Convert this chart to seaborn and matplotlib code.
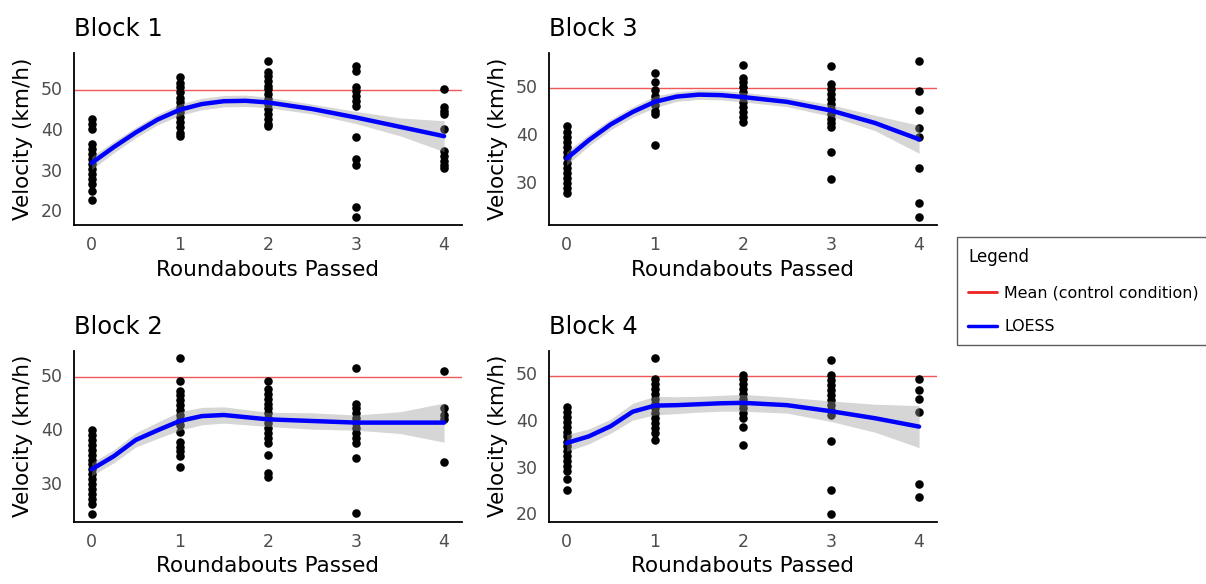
"""
Velocity vs roundabouts passed, one panel per block, with LOESS fit
"""
import matplotlib
matplotlib.use('Agg')
import numpy as np
import pandas as pd
import matplotlib.pyplot as plt
from matplotlib.lines import Line2D
from matplotlib.ticker import MultipleLocator
import seaborn as sns

passed = [0, 1, 2, 3, 4]
control_mean = 49.5

# velocity readings per roundabout count (0..4)
block1_vel = [
    [42.4, 41.2, 40.0, 36.3, 35.1, 33.8, 32.6, 31.4, 30.1, 28.9, 27.7, 26.5, 24.8, 22.4],
    [52.7, 51.4, 50.2, 49.0, 47.7, 46.5, 45.3, 44.1, 42.8, 41.6, 40.4, 39.1, 38.3],
    [56.8, 53.9, 53.1, 51.8, 50.6, 49.8, 48.6, 47.3, 46.1, 44.9, 43.7, 42.4, 41.2, 40.8],
    [55.5, 54.3, 50.2, 49.4, 48.2, 46.9, 45.7, 37.9, 32.6, 31.0, 20.7, 18.3],
    [49.8, 45.5, 44.5, 43.7, 40.0, 34.6, 33.4, 32.2, 31.1, 30.4],
]
block2_vel = [
    [39.8, 38.9, 38.0, 37.1, 36.2, 35.3, 34.4, 33.5, 32.6, 31.7, 30.8, 29.9, 29.0, 28.1, 27.2, 26.3, 24.4],
    [53.0, 48.9, 47.1, 46.2, 45.3, 44.4, 43.5, 42.6, 41.7, 40.8, 39.5, 37.7, 36.8, 35.9, 35.0, 33.0],
    [48.9, 47.4, 46.5, 45.6, 44.7, 43.8, 42.9, 42.0, 41.1, 40.2, 39.2, 38.3, 37.4, 35.3, 32.0, 31.2],
    [51.3, 44.7, 43.8, 42.9, 42.0, 41.1, 40.2, 39.2, 38.3, 37.4, 34.6, 24.6],
    [50.7, 43.8, 42.6, 41.8, 33.9],
]
block3_vel = [
    [41.5, 40.3, 39.3, 38.3, 37.2, 36.2, 35.2, 33.8, 32.8, 31.7, 30.7, 29.7, 28.6, 27.7],
    [52.6, 50.8, 49.0, 47.9, 46.9, 45.9, 44.8, 44.1, 37.6],
    [54.3, 51.6, 50.7, 49.7, 48.6, 47.6, 46.6, 45.5, 44.5, 43.4, 42.4],
    [54.0, 50.3, 49.3, 48.3, 47.2, 46.2, 45.2, 44.1, 43.1, 42.1, 41.4, 36.1, 30.6],
    [55.2, 48.8, 45.0, 41.2, 39.2, 32.9, 25.5, 22.6],
]
block4_vel = [
    [42.8, 41.8, 40.7, 39.6, 38.6, 37.5, 36.5, 35.4, 34.4, 33.3, 32.3, 31.2, 30.1, 29.1, 27.3, 25.0],
    [53.2, 48.8, 47.7, 46.6, 45.6, 44.6, 43.5, 42.5, 41.5, 40.4, 39.3, 38.2, 37.2, 35.8],
    [49.7, 48.8, 47.7, 46.6, 45.6, 44.6, 43.5, 42.5, 41.5, 40.4, 38.6, 34.6],
    [52.8, 49.7, 48.6, 47.5, 46.5, 45.4, 44.4, 43.3, 42.1, 41.1, 35.6, 25.0, 19.9],
    [48.8, 46.5, 44.6, 41.8, 26.3, 23.6],
]

# LOESS fit and half-width of its confidence band
loess_x = [0, 0.25, 0.5, 0.75, 1, 1.25, 1.5, 1.75, 2, 2.5, 3, 3.5, 4]
block1_fit = [31.6, 35.5, 39.1, 42.3, 44.7, 46.1, 46.8, 46.9, 46.5, 44.9, 42.8, 40.5, 38.2]
block1_se = [1.6, 1.4, 1.3, 1.3, 1.4, 1.4, 1.4, 1.4, 1.3, 1.2, 1.5, 2.2, 3.8]
block2_fit = [32.6, 35.0, 38.0, 39.8, 41.5, 42.4, 42.6, 42.2, 41.8, 41.5, 41.2, 41.2, 41.2]
block2_se = [1.2, 1.2, 1.3, 1.5, 1.7, 1.6, 1.5, 1.4, 1.3, 1.5, 1.4, 2.0, 3.6]
block3_fit = [34.8, 38.6, 41.9, 44.5, 46.6, 47.7, 48.1, 48.0, 47.6, 46.6, 44.8, 42.2, 38.8]
block3_se = [1.4, 1.2, 1.1, 1.1, 1.2, 1.0, 1.0, 1.0, 1.0, 1.0, 1.2, 1.6, 2.9]
block4_fit = [35.1, 36.5, 38.7, 41.8, 43.1, 43.2, 43.4, 43.6, 43.7, 43.2, 41.9, 40.4, 38.6]
block4_se = [1.8, 1.6, 1.5, 1.8, 2.0, 1.8, 1.7, 1.7, 1.8, 1.7, 2.2, 3.0, 4.5]

sns.set_style('white')
plt.rcParams['font.family'] = ['DejaVu Sans']
plt.rcParams['text.color'] = 'black'
plt.rcParams['axes.labelcolor'] = 'black'

W, H = 1206, 584
fig = plt.figure(figsize=(W / 100, H / 100), dpi=100)

# (title, points, fit, se, left px, top px, bottom px)
panels = [
    ('Block 1', block1_vel, block1_fit, block1_se, 74, 52.7, 225),
    ('Block 3', block3_vel, block3_fit, block3_se, 549, 52.7, 225),
    ('Block 2', block2_vel, block2_fit, block2_se, 74, 350.7, 521.7),
    ('Block 4', block4_vel, block4_fit, block4_se, 549, 350.7, 521.7),
]
panel_w = 387.7

for title, vel, fit, se, left, top, bottom in panels:
    ax = fig.add_axes([left / W, 1 - bottom / H, panel_w / W, (bottom - top) / H])

    pts = pd.DataFrame({
        'passed': [p for p, vs in zip(passed, vel) for _ in vs],
        'velocity': [v for vs in vel for v in vs],
    })
    fit_df = pd.DataFrame({'passed': loess_x, 'velocity': fit})
    lo = np.array(fit) - np.array(se)
    hi = np.array(fit) + np.array(se)

    ax.axhline(control_mean, color='#EE3B3B', lw=1.0, alpha=0.85, zorder=1)
    sns.scatterplot(data=pts, x='passed', y='velocity', color='black', s=38,
                    linewidth=0, ax=ax, zorder=2, legend=False)
    ax.fill_between(loess_x, lo, hi, color='#999999', alpha=0.4, lw=0, zorder=3)
    sns.lineplot(data=fit_df, x='passed', y='velocity', color='blue', lw=3.2,
                 ax=ax, zorder=4, legend=False)

    # ggplot-style 5% expansion
    vmin = min(pts['velocity'].min(), lo.min())
    vmax = max(pts['velocity'].max(), hi.max())
    pad = 0.05 * (vmax - vmin)
    ax.set_ylim(vmin - pad, vmax + pad)
    ax.set_xlim(-0.2, 4.2)
    ax.set_xticks(passed)
    ax.yaxis.set_major_locator(MultipleLocator(10))

    for side in ['top', 'right']:
        ax.spines[side].set_visible(False)
    for side in ['left', 'bottom']:
        ax.spines[side].set_linewidth(1.3)
        ax.spines[side].set_color('black')
    ax.tick_params(length=0, pad=8, labelsize=12.5, labelcolor='#4D4D4D')

    ax.set_title(title, loc='left', fontsize=17.5, pad=12, color='black')
    ax.set_xlabel('Roundabouts Passed', fontsize=15.5, labelpad=4)
    ax.set_ylabel('Velocity (km/h)', fontsize=15.5, labelpad=6)

handles = [Line2D([], [], color='#EE2222', lw=2),
           Line2D([], [], color='blue', lw=2.5)]
leg = fig.legend(handles, ['Mean (control condition)', 'LOESS'],
                 loc='upper left', bbox_to_anchor=(957 / W, 1 - 237 / H),
                 borderaxespad=0, title='Legend', alignment='left',
                 fontsize=11.4, title_fontsize=12, frameon=True,
                 fancybox=False, edgecolor='#333333', handlelength=1.8,
                 handletextpad=0.5, labelspacing=1.2, borderpad=0.7)
leg.get_frame().set_linewidth(1.0)

fig.savefig('out.png', dpi=100)
